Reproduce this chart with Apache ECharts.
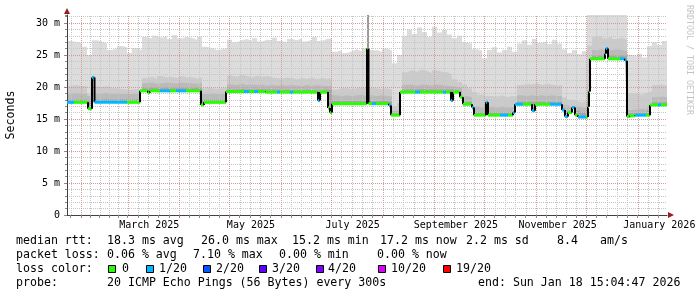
<!DOCTYPE html>
<html><head><meta charset="utf-8">
<script src="https://cdn.jsdelivr.net/npm/echarts@6/dist/echarts.min.js"></script>
<style>html,body{margin:0;padding:0;background:#fff}#c{width:697px;height:297px}</style>
</head><body><div id="c"></div>
<script>
// ---------- data ----------
const START = Date.UTC(2025, 0, 23, 15, 4, 47);   // graph start (360 days before end)
const DAY = 86400000;
const RANGE_DAYS = 360;
const BIN_DAYS = 3;

const monthLabels = ['March 2025', 'May 2025', 'July 2025', 'September 2025', 'November 2025', 'January 2026'];
const monthLabelDates = [[2025, 2], [2025, 4], [2025, 6], [2025, 8], [2025, 10], [2026, 0]];
const yTickLabels = ['0', '5 m', '10 m', '15 m', '20 m', '25 m', '30 m'];

// smoke (percentile bands), one value per 3-day bin, in ms
const smokeTop = [27.2,27.0,26.9,26.3,25.0,
  27.3,27.1,26.8,25.8,26.0,26.4,26.2,25.3,26.1,25.8,
  27.8,27.6,28.0,27.7,27.9,27.5,28.1,27.6,27.8,27.7,27.4,27.9,
  26.3,26.1,25.8,25.9,26.1,
  27.4,27.0,27.3,27.5,27.2,27.6,27.1,27.4,27.3,27.7,27.2,27.0,27.5,27.3,27.6,27.1,27.4,27.8,27.2,27.5,27.6,
  25.5,25.8,25.3,25.6,25.9,25.6,26.0,
  25.7,
  25.8,25.5,26.0,25.7,
  23.7,25.0,
  28.0,29.0,28.3,29.3,28.6,27.8,29.4,28.5,28.9,28.2,
  27.6,28.0,27.0,26.8,25.9,25.7,24.5,25.8,26.2,25.4,25.8,26.3,25.5,
  26.8,27.3,26.6,27.5,26.9,27.2,26.7,27.4,26.8,
  25.9,25.3,25.8,25.1,25.6,
  31.25,31.25,31.25,31.25,31.25,31.25,31.25,31.25,
  25.0,
  24.8,25.2,24.6,
  26.4,27.0,26.6,27.2];
const smokeMid = [20.2,20.3,20.1,20.2,
  19.0,20.1,
  20.0,20.1,19.9,19.8,19.7,19.6,19.6,19.7,19.6,
  21.4,21.6,21.3,21.7,21.5,21.6,21.4,21.7,21.5,21.6,21.3,21.5,
  19.8,19.9,19.7,19.8,19.9,
  21.8,21.6,21.9,21.7,21.5,21.8,21.6,21.7,21.5,21.4,21.3,21.5,21.4,21.2,21.4,21.3,21.5,21.2,21.4,21.3,21.4,
  19.6,19.8,19.9,19.7,19.8,19.9,19.8,19.9,19.8,19.7,19.8,19.6,
  17.0,17.5,
  22.3,22.6,22.4,22.7,22.5,22.2,22.6,22.4,22.3,22.0,
  21.2,20.8,20.4,19.8,
  19.2,18.8,18.6,
  18.6,18.5,18.7,18.4,18.6,18.5,
  20.3,20.5,20.4,20.6,20.3,20.5,20.4,20.2,20.3,
  18.4,18.0,17.8,17.6,17.8,
  26.5,27.8,28.0,27.6,27.9,27.5,27.7,27.4,
  19.0,19.0,18.8,19.1,
  19.3,20.3,20.4,20.2];
const smokeDark = [19.0,19.1,18.9,19.0,
  18.6,19.0,
  19.0,19.1,18.9,19.0,18.9,19.0,18.9,19.0,18.9,
  20.6,20.7,20.5,20.6,20.7,20.6,20.5,20.7,20.6,20.6,20.5,20.6,
  18.9,19.0,18.9,18.9,19.0,
  20.4,20.3,20.5,20.3,20.4,20.3,20.4,20.2,20.3,20.2,20.3,20.2,20.3,20.2,20.1,20.3,20.2,20.3,20.2,20.1,20.2,
  18.7,18.6,18.7,18.6,18.7,18.8,18.6,18.7,18.6,18.7,18.6,18.5,
  16.3,16.4,
  20.3,20.4,20.2,20.4,20.3,20.2,20.4,20.3,20.2,20.1,
  20.0,19.8,18.6,18.4,
  17.0,16.8,16.8,
  16.9,16.8,16.9,16.8,16.8,16.9,
  18.7,18.6,18.7,18.6,18.7,18.6,18.7,18.6,18.6,
  17.2,16.9,17.0,16.8,16.7,
  19.5,25.8,25.9,25.7,25.8,25.9,25.8,25.6,
  16.4,16.5,16.6,16.5,
  17.0,18.4,18.5,18.4];
const smokeCore = [18.0,18.0,18.0,18.0,
  17.9,18.0,
  18.0,18.1,18.0,18.0,18.1,18.0,18.0,18.1,18.0,
  19.8,19.9,19.8,19.8,19.9,19.8,19.8,19.9,19.8,19.8,19.9,19.8,
  18.0,18.0,18.0,18.0,18.0,
  19.6,19.6,19.7,19.6,19.6,19.6,19.7,19.6,19.6,19.6,19.5,19.6,19.5,19.5,19.5,19.6,19.5,19.5,19.5,19.6,19.5,
  17.8,17.8,17.8,17.8,17.8,17.9,17.8,17.8,17.8,17.8,17.8,17.7,
  15.9,15.9,
  19.6,19.6,19.6,19.7,19.6,19.6,19.6,19.6,19.6,19.6,
  19.5,19.3,17.7,17.7,
  16.0,16.0,16.0,
  16.0,16.0,16.0,16.0,16.0,16.0,
  17.7,17.7,17.7,17.7,17.7,17.7,17.7,17.7,17.7,
  16.2,16.0,16.3,16.1,16.0,
  19.0,24.9,24.9,24.9,24.9,24.9,24.9,24.9,
  15.9,15.9,15.9,15.9,
  16.3,17.6,17.6,17.6];
// narrow smoke column above the July spike: [startDay, endDay, low, high]
const spikeSmoke = [[180.0, 181.2, 26.0, 31.25]];

// median rtt: segment start (days from graph start), value (ms), lost pings (of 20)
const medStart = [0,4.2,12.6,15.0,16.5,36.0,43.8,48.6,49.8,55.8,
  61.8,65.4,71.4,80.4,82.2,95.4,106.2,109.2,112.2,114.6,
  119.4,126.0,127.8,133.8,135.6,150.6,151.8,156.6,157.8,159.0,
  180.0,180.9,183.0,185.4,193.2,194.4,199.8,208.8,211.8,225.6,
  227.4,230.4,231.6,235.8,237.6,243.0,244.2,251.4,252.6,259.8,
  264.6,267.6,268.8,273.6,279.0,280.8,289.8,297.0,298.8,300.6,
  303.0,304.8,306.6,311.4,312.6,313.2,313.8,322.8,323.4,324.6,
  331.8,334.8,336.0,337.8,340.8,347.4,349.8,354.6,356.4];
const medValue = [17.6,17.6,16.6,21.5,17.6,17.6,19.4,19.1,19.4,19.4,
  19.4,19.4,19.4,17.2,17.6,19.3,19.3,19.3,19.3,19.3,
  19.2,19.2,19.2,19.2,19.2,17.9,19.2,16.7,16.0,17.4,
  26.0,17.4,17.4,17.4,17.1,15.6,19.2,19.2,19.2,19.2,
  19.2,17.9,19.2,18.4,17.3,16.8,15.6,17.6,15.6,15.6,
  15.6,16.0,17.3,17.3,16.3,17.3,17.3,16.4,15.4,16.0,
  16.8,15.6,15.3,15.3,16.9,19.3,24.4,25.2,26.0,24.4,
  24.4,24.1,15.4,15.5,15.6,15.6,17.2,17.2,17.2];
const medLoss = [1,0,0,1,1,0,0,0,0,1,
  0,1,0,0,0,0,1,0,1,0,
  0,1,0,1,0,1,0,0,0,0,
  0,0,1,0,1,0,0,1,0,1,
  0,1,0,0,0,1,0,1,0,1,
  0,1,1,0,1,0,1,1,1,0,
  1,0,1,0,0,0,0,1,1,0,
  1,1,0,0,1,0,0,1,0];

const lossLevels = ['0', '1/20', '2/20', '3/20', '4/20', '10/20', '19/20'];
const lossLevelCount = [0, 1, 2, 3, 4, 10, 19];
const lossColors = ['#26ff00', '#00b8ff', '#0059ff', '#5e00ff', '#7e00ff', '#dd00ff', '#ff0000'];

const legendLine1 = ['median rtt:', '18.3 ms avg', '26.0 ms max', '15.2 ms min', '17.2 ms now', '2.2 ms sd', '8.4', 'am/s'];
const legendLine2 = ['packet loss:', '0.06 % avg', '7.10 % max', '0.00 % min', '0.00 % now'];
const legendLine3 = 'loss color:';
const legendLine4 = ['probe:', '20 ICMP Echo Pings (56 Bytes) every 300s', 'end: Sun Jan 18 15:04:47 2026'];

// ---------- build ----------
const FONT = "'DejaVu Sans Mono', monospace";
const Y_MAX = 31.25;
const dayOf = (y, m, d) => (Date.UTC(y, m, d) - START) / DAY;

const monthStarts = [];
for (let m = 1; m <= 12; m++) monthStarts.push(dayOf(2025, m, 1));
const minorDays = [];
for (let k = 0; k < monthStarts.length; k++) {
  const a = monthStarts[k];
  const b = k + 1 < monthStarts.length ? monthStarts[k + 1] : a + 31;
  for (let j = 1; j < 5; j++) { const d = a + (b - a) * j / 5; if (d < RANGE_DAYS) minorDays.push(d); }
}
{ const a = monthStarts[0]; const step = (a - dayOf(2025, 0, 1)) / 5; for (let d = a - step; d > 0; d -= step) minorDays.push(d); }
const labelDays = monthLabelDates.map(([y, m]) => dayOf(y, m, 14));

const vGrid = minorDays.map(d => [d, 0]).concat(monthStarts.map(d => [d, 1]));

function binData(arr) {
  const d = arr.map((v, i) => [i * BIN_DAYS, v]);
  d.push([RANGE_DAYS, arr[arr.length - 1]]);
  return d;
}
function smokeSeries(arr, color) {
  return { type: 'line', step: 'end', data: binData(arr), symbol: 'none', showSymbol: false,
    lineStyle: { width: 0 }, areaStyle: { color: color, opacity: 1 }, silent: true, z: 1, animation: false };
}
const maskData = medStart.map((s, i) => [s, medValue[i]]);
maskData.push([RANGE_DAYS, medValue[medValue.length - 1]]);
const medSegs = medStart.map((s, i) => [s, i + 1 < medStart.length ? medStart[i + 1] : RANGE_DAYS, medValue[i], medLoss[i]]);

const GRID_MINOR = '#c6c6c6', GRID_MAJOR = '#d39a9a';

// legend graphics
const gfx = [];
function txt(x, y, s, extra) {
  gfx.push(Object.assign({ type: 'text', x: x, y: y, silent: true,
    style: { text: s, fill: '#000', font: '11.6px ' + FONT, textVerticalAlign: 'middle', textAlign: 'left' } }, extra || {}));
}
const l1x = [16, 107, 201, 292, 380, 466, 557, 600];
legendLine1.forEach((s, i) => txt(l1x[i], 241, s));
const l2x = [16, 107, 193, 279, 377];
legendLine2.forEach((s, i) => txt(l2x[i], 255, s));
txt(16, 269, legendLine3);
const sqx = [108, 146, 203, 259, 316, 378, 443];
const sqLabelX = [122, 159, 216, 272, 328, 391, 456];
lossLevels.forEach((s, i) => {
  gfx.push({ type: 'rect', silent: true, shape: { x: sqx[i] + 0.5, y: 265.5, width: 7, height: 7 },
    style: { fill: lossColors[i], stroke: '#000', lineWidth: 1 } });
  txt(sqLabelX[i], 269, s);
});
const l4x = [16, 107, 478];
legendLine4.forEach((s, i) => txt(l4x[i], 283, s));
gfx.push({ type: 'text', x: 689, y: 5, rotation: -Math.PI / 2, silent: true,
  style: { text: 'RRDTOOL / TOBI OETIKER', fill: '#c4c4c4', font: '8.3px ' + FONT, textAlign: 'left', textVerticalAlign: 'middle' } });
gfx.push({ type: 'polygon', silent: true, shape: { points: [[64, 14], [70, 14], [67, 8]] }, style: { fill: '#9b1c1c' } });
gfx.push({ type: 'polygon', silent: true, shape: { points: [[668, 212], [668, 218], [674, 215]] }, style: { fill: '#9b1c1c' } });

const option = {
  animation: false,
  backgroundColor: '#ffffff',
  grid: { left: 67, right: 30, top: 15, bottom: 82, containLabel: false, outerBoundsMode: 'none' },
  xAxis: {
    type: 'value', min: 0, max: RANGE_DAYS, z: 4,
    axisLine: { show: true, onZero: false, lineStyle: { color: '#404040', width: 1 } },
    axisTick: { show: true, customValues: monthStarts.concat(minorDays), length: 3, lineStyle: { color: '#8a8a8a' } },
    axisLabel: { show: true, customValues: labelDays, margin: 5, color: '#000', fontFamily: FONT, fontSize: 10,
      formatter: (v) => { let best = 0; labelDays.forEach((d, i) => { if (Math.abs(d - v) < Math.abs(labelDays[best] - v)) best = i; }); return monthLabels[best]; } },
    splitLine: { show: false }
  },
  yAxis: [
    { type: 'value', min: 0, max: Y_MAX, interval: 5, z: 4, position: 'left',
      name: 'Seconds', nameLocation: 'middle', nameGap: 50,
      nameTextStyle: { fontFamily: FONT, fontSize: 11.6, color: '#000' },
      axisLine: { show: true, lineStyle: { color: '#404040' } },
      axisTick: { show: true, length: 3, lineStyle: { color: '#8a8a8a' } },
      axisLabel: { margin: 7, color: '#000', fontFamily: FONT, fontSize: 10, showMaxLabel: false,
        formatter: (v) => (v % 5 === 0 ? yTickLabels[v / 5] : '') },
      splitLine: { show: true, showMinLine: false, showMaxLine: false, lineStyle: { color: GRID_MAJOR, type: [1, 1], width: 1 } }
    },
    { type: 'value', min: 0, max: Y_MAX, interval: 1, z: 3, position: 'left',
      axisLine: { show: false }, axisLabel: { show: false },
      axisTick: { show: true, length: 2, lineStyle: { color: '#8a8a8a' } },
      splitLine: { show: true, showMinLine: false, showMaxLine: false, lineStyle: { color: GRID_MINOR, type: [1, 1], width: 1 } }
    }
  ],
  series: [
    smokeSeries(smokeTop, '#dcdcdc'),
    smokeSeries(smokeMid, '#cbcbcb'),
    smokeSeries(smokeDark, '#bababa'),
    smokeSeries(smokeCore, '#a6a6a6'),
    { type: 'custom', z: 1, silent: true, data: spikeSmoke, encode: { x: [0, 1], y: [2, 3] },
      renderItem: (params, api) => {
        const a = api.coord([api.value(0), api.value(3)]);
        const b = api.coord([api.value(1), api.value(2)]);
        return { type: 'rect', shape: { x: a[0], y: a[1], width: b[0] - a[0], height: b[1] - a[1] }, style: { fill: '#9a9a9a' } };
      } },
    { type: 'line', step: 'end', data: maskData, symbol: 'none', showSymbol: false, z: 1,
      lineStyle: { width: 0 }, areaStyle: { color: '#ffffff', opacity: 1 }, silent: true },
    { type: 'custom', z: 3, silent: true, data: vGrid, encode: { x: 0 },
      renderItem: (params, api) => {
        const d = api.value(0), major = api.value(1) === 1;
        const p = api.coord([d, 0]), q = api.coord([d, Y_MAX]);
        const x = Math.round(p[0]) + 0.5;
        return { type: 'line', shape: { x1: x, y1: p[1], x2: x, y2: q[1] },
          style: { stroke: major ? GRID_MAJOR : GRID_MINOR, lineWidth: 1, lineDash: [1, 1] } };
      } },
    { type: 'custom', z: 5, silent: true, data: medSegs, encode: { x: [0, 1], y: 2 },
      renderItem: (params, api) => {
        const i = params.dataIndex;
        const x0 = api.value(0), x1 = api.value(1), v = api.value(2), loss = api.value(3);
        const p0 = api.coord([x0, v]), p1 = api.coord([x1, v]);
        const children = [];
        if (i > 0) {
          const q = api.coord([x0, medValue[i - 1]]);
          children.push({ type: 'line', shape: { x1: p0[0], y1: q[1], x2: p0[0], y2: p0[1] }, style: { stroke: '#000', lineWidth: 2 } });
        }
        const ci = lossLevelCount.indexOf(loss);
        children.push({ type: 'line', shape: { x1: p0[0], y1: p0[1], x2: p1[0], y2: p1[1] }, style: { stroke: lossColors[ci], lineWidth: 3 } });
        return { type: 'group', children: children };
      } }
  ],
  graphic: gfx
};
const chart = echarts.init(document.getElementById('c'), null, { renderer: 'canvas' });
chart.setOption(option);
</script>
</body></html>
